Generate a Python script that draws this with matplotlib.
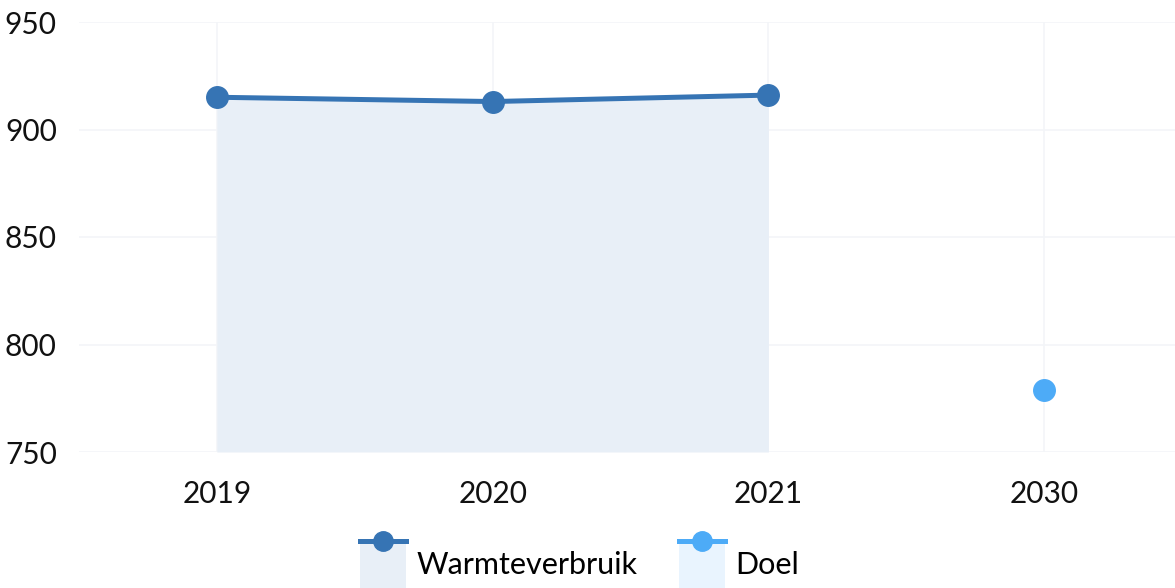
import matplotlib
matplotlib.use('Agg')
import matplotlib.pyplot as plt
from matplotlib.legend_handler import HandlerBase
from matplotlib.patches import Rectangle
from matplotlib.lines import Line2D

plt.rcParams['font.family'] = ['Lato', 'DejaVu Sans']

# data
years = ['2019', '2020', '2021', '2030']
verbruik = [915, 913, 916]
doel = [779]
yticks = [750, 800, 850, 900, 950]

c_line = '#3674b4'
c_fill = '#e8eff7'
c_doel = '#4dabf7'
c_doel_fill = '#e9f4fe'
c_grid = '#f3f5f8'


class BoxLineHandler(HandlerBase):
    def __init__(self, color, fill):
        super().__init__()
        self.color = color
        self.fill = fill

    def create_artists(self, legend, orig_handle, xdescent, ydescent,
                       width, height, fontsize, trans):
        top = height + 0.55 * height
        rect = Rectangle((-xdescent, -ydescent - 1.6 * height), width,
                         top + 1.6 * height, facecolor=self.fill,
                         edgecolor='none', transform=trans)
        line = Line2D([-xdescent, -xdescent + width], [top, top],
                      color=self.color, lw=3.6, transform=trans)
        dot = Line2D([-xdescent + width / 2], [top], marker='o',
                     markersize=14, color=self.color, lw=0, transform=trans)
        return [rect, line, dot]


fig = plt.figure(figsize=(11.75, 5.88), dpi=100)
ax = fig.add_axes([79 / 1175, 136 / 588, 1103 / 1175, 430 / 588])

x = list(range(len(verbruik)))
ax.fill_between(x, verbruik, 750, color=c_fill, lw=0, zorder=1)
ax.plot(x, verbruik, color=c_line, lw=3.6, marker='o', markersize=15.5,
        zorder=3, solid_capstyle='round')
ax.plot([3], doel, color=c_doel, lw=0, marker='o', markersize=15.5, zorder=3)

ax.set_xlim(-0.5, 3.5)
ax.set_ylim(750, 950)
ax.set_xticks(range(len(years)))
ax.set_xticklabels(years)
ax.set_yticks(yticks)
ax.grid(True, color=c_grid, lw=1.2, zorder=0)
ax.set_axisbelow(True)
for s in ax.spines.values():
    s.set_visible(False)
ax.tick_params(axis='both', length=0, labelsize=21.5, colors='#111111')
ax.tick_params(axis='x', pad=20)
ax.tick_params(axis='y', pad=16)

h1 = Line2D([], [])
h2 = Line2D([], [])
leg = fig.legend([h1, h2], ['Warmteverbruik', 'Doel'],
                 handler_map={h1: BoxLineHandler(c_line, c_fill),
                              h2: BoxLineHandler(c_doel, c_doel_fill)},
                 loc='center', bbox_to_anchor=(0.5 - 8 / 1175, 1 - 565 / 588),
                 ncol=2, frameon=False, fontsize=22, handlelength=1.5,
                 handletextpad=0.36, columnspacing=1.35)

fig.savefig('out.png', dpi=100, facecolor='white')
